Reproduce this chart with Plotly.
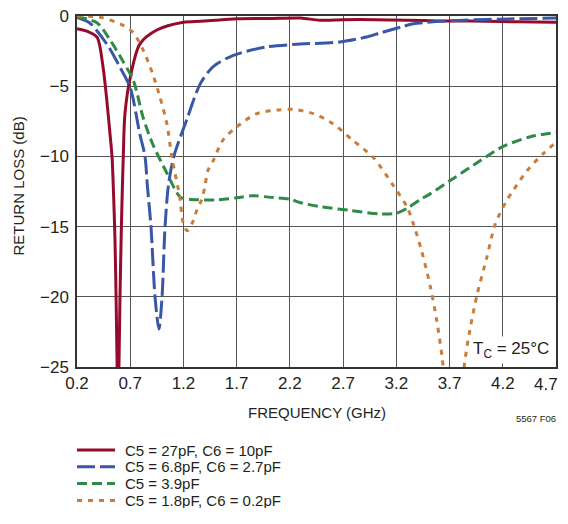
import plotly.graph_objects as go

# ---- data ----
red_f = [0.2, 0.3, 0.388, 0.444, 0.48, 0.51, 0.529, 0.545, 0.557, 0.567, 0.577, 0.585,
         0.594, 0.604, 0.617, 0.627, 0.635, 0.65, 0.7, 0.79, 0.95, 1.2, 1.36, 1.5, 1.7,
         2.0, 2.3, 2.48, 2.7, 3.0, 3.3, 3.6, 3.9, 4.2, 4.5, 4.7]
red_db = [-0.9, -1.1, -1.5, -3.6, -6.0, -8.4, -10.0, -13.0, -16.0, -20.0, -25.0, -28.0,
          -25.0, -20.0, -15.0, -12.0, -10.0, -7.0, -4.4, -2.0, -1.0, -0.45, -0.38, -0.3, -0.2,
          -0.18, -0.14, -0.3, -0.26, -0.26, -0.3, -0.35, -0.35, -0.4, -0.43, -0.45]

blue_f = [0.2, 0.32, 0.48, 0.6, 0.7, 0.79, 0.839, 0.86, 0.895, 0.933, 0.97, 0.999, 1.027,
          1.06, 1.11, 1.23, 1.36, 1.48, 1.67, 1.98, 2.3, 2.67, 2.92, 3.05, 3.24, 3.36,
          3.83, 4.3, 4.7]
blue_db = [-0.1, -0.5, -2.0, -3.6, -5.1, -8.4, -10.0, -12.0, -15.0, -20.0, -22.3, -20.0, -15.0,
           -12.0, -10.0, -7.4, -4.8, -3.6, -2.8, -2.2, -2.0, -1.85, -1.5, -1.2, -0.8, -0.55,
           -0.3, -0.2, -0.15]

green_f = [0.2, 0.39, 0.51, 0.63, 0.73, 0.82, 0.91, 1.045, 1.17, 1.25, 1.5, 1.7, 1.85, 2.0,
           2.2, 2.3, 2.5, 2.77, 3.05, 3.2, 3.3, 3.42, 3.52, 3.75, 3.99, 4.2, 4.46, 4.7]
green_db = [-0.05, -0.5, -1.7, -3.2, -4.6, -7.2, -9.1, -11.2, -12.9, -13.05, -13.1, -12.95,
            -12.8, -12.9, -13.05, -13.3, -13.6, -13.85, -14.1, -14.05, -13.7, -13.1, -12.65,
            -11.5, -10.3, -9.3, -8.6, -8.3]

orange_f = [0.2, 0.42, 0.63, 0.73, 0.82, 0.91, 0.98, 1.045, 1.09, 1.17, 1.19, 1.234, 1.28,
            1.325, 1.37, 1.4, 1.43, 1.48, 1.57, 1.7, 1.89, 2.08, 2.23, 2.42, 2.6, 2.79, 2.98,
            3.17, 3.3, 3.36, 3.44, 3.52, 3.58, 3.63, 3.68, 3.74, 3.8, 3.84, 3.89, 3.96, 4.05,
            4.13, 4.24, 4.3, 4.43, 4.58, 4.7]
orange_db = [0.0, -0.1, -0.65, -1.2, -2.4, -4.1, -5.8, -7.7, -10.0, -13.1, -14.5, -15.3, -14.8,
             -13.85, -13.1, -12.2, -11.0, -10.3, -8.85, -7.9, -6.95, -6.7, -6.65, -6.95, -7.65,
             -8.85, -10.05, -12.06, -13.6, -14.8, -16.8, -19.3, -21.7, -24.3, -28.0, -31.0,
             -28.0, -24.8, -22.4, -19.8, -17.2, -14.8, -13.1, -12.4, -11.0, -9.8, -9.0]

series_names = ["C5 = 27pF, C6 = 10pF", "C5 = 6.8pF, C6 = 2.7pF", "C5 = 3.9pF",
                "C5 = 1.8pF, C6 = 0.2pF"]
x_ticks = [0.2, 0.7, 1.2, 1.7, 2.2, 2.7, 3.2, 3.7, 4.2, 4.7]
y_ticks = [0, -5, -10, -15, -20, -25]

colors = ["#960a2c", "#3a56a6", "#2e8a46", "#c97d3a"]
dashes = ["solid", "18px,5px", "10px,5px", "5px,6px"]

FONT = "Liberation Sans, Arial, Helvetica, sans-serif"
TXT = "#231f20"

fig = go.Figure()
for f, d, c, ds, nm in zip([red_f, blue_f, green_f, orange_f],
                           [red_db, blue_db, green_db, orange_db],
                           colors, dashes, series_names):
    fig.add_trace(go.Scatter(x=f, y=d, mode="lines", name=nm,
                             line=dict(color=c, width=3, dash=ds, shape="spline",
                                       smoothing=0.8),
                             showlegend=False))

# the last x tick label is drawn as an annotation so it stays inside the visible page
x_ticktext = [f"{v:.1f}" for v in x_ticks[:-1]] + [""]

fig.update_layout(
    width=552, height=500,
    margin=dict(l=69, r=4, t=8, b=141),
    paper_bgcolor="white", plot_bgcolor="white",
    font=dict(family=FONT, size=17, color=TXT),
    xaxis=dict(range=[0.2, 4.7], tickvals=x_ticks, ticktext=x_ticktext,
               showgrid=True, gridcolor="#555555", gridwidth=1, zeroline=False,
               showline=True, linecolor="#333333", linewidth=1.5, mirror=True,
               ticks="", automargin=False, ticklabeloverflow="allow",
               tickfont=dict(size=17, family=FONT, color=TXT)),
    yaxis=dict(range=[-25, 0], tickvals=y_ticks,
               showgrid=True, gridcolor="#555555", gridwidth=1, zeroline=False,
               showline=True, linecolor="#333333", linewidth=1.5, mirror=True,
               ticks="", automargin=False, ticklabelstandoff=3, ticklabeloverflow="allow",
               tickfont=dict(size=17, family=FONT, color=TXT)),
)

fig.add_annotation(x=x_ticks[-1], y=(367 - 384) / 351, xref="x", yref="paper",
                   text=f"{x_ticks[-1]:.1f}", showarrow=False, xanchor="right",
                   yanchor="middle", xshift=4, font=dict(size=17, family=FONT, color=TXT))

# axis titles
fig.add_annotation(x=(316.7 - 77) / 479, y=(367 - 412) / 351, xref="paper", yref="paper",
                   text="FREQUENCY (GHz)", showarrow=False,
                   font=dict(size=15, family=FONT, color=TXT),
                   xanchor="center", yanchor="middle")
fig.add_annotation(x=(18 - 77) / 479, y=(367 - 186.5) / 351, xref="paper", yref="paper",
                   text="RETURN LOSS (dB)", showarrow=False, textangle=-90,
                   font=dict(size=15, family=FONT, color=TXT),
                   xanchor="center", yanchor="middle")

# temperature note
fig.add_annotation(x=4.28, y=-23.8, xref="x", yref="y", text="T<sub>C</sub> = 25°C",
                   showarrow=False, bgcolor="white", font=dict(size=17, family=FONT, color=TXT),
                   xanchor="center", yanchor="middle", borderpad=2)

# figure id
fig.add_annotation(x=(536 - 77) / 479, y=(367 - 418) / 351, xref="paper", yref="paper",
                   text="5567 F06", showarrow=False,
                   font=dict(size=9.5, family=FONT, color=TXT), xanchor="center",
                   yanchor="middle")

# legend (manual)
rows_y = [450, 466.8, 483.6, 500.4]
for nm, c, ds, py in zip(series_names, colors, dashes, rows_y):
    yy = (367 - py) / 351
    fig.add_shape(type="line", xref="paper", yref="paper", x0=0, x1=(115 - 77) / 479,
                  y0=yy, y1=yy, line=dict(color=c, width=3, dash=ds))
    fig.add_annotation(x=(124 - 77) / 479, y=yy, xref="paper", yref="paper", text=nm,
                       showarrow=False, font=dict(size=15, family=FONT, color=TXT),
                       xanchor="left", yanchor="middle", borderpad=0)

fig.write_html("out.html")
